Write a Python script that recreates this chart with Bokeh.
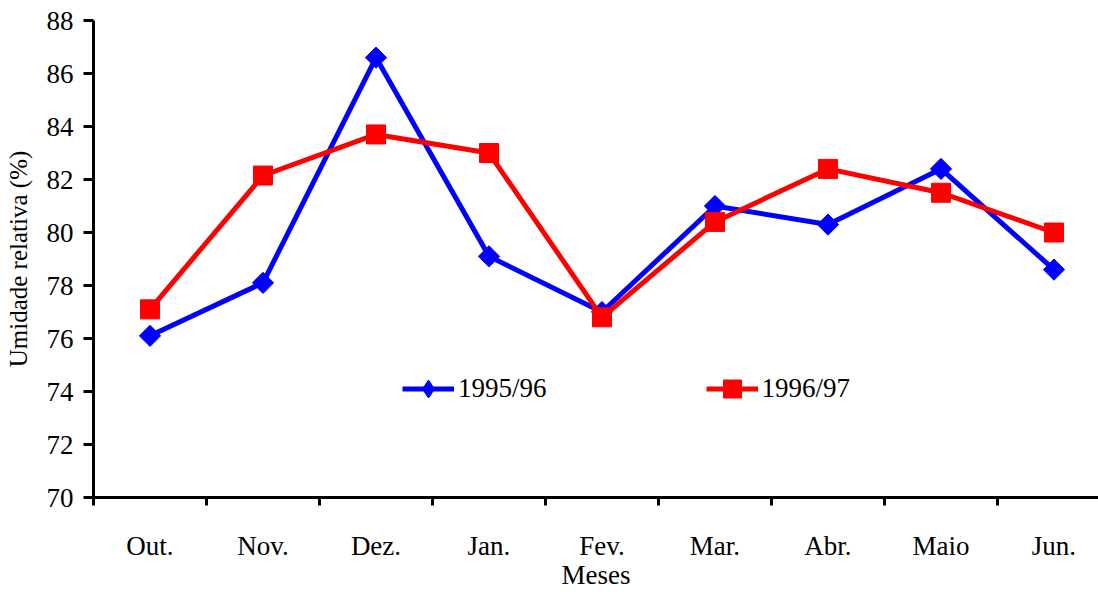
from bokeh.plotting import figure
from bokeh.models import Range1d, FixedTicker, Legend, LegendItem
from bokeh.embed import file_html
from bokeh.resources import INLINE
import math

# Monthly relative humidity (%) for two seasons
months = ["Out.", "Nov.", "Dez.", "Jan.", "Fev.", "Mar.", "Abr.", "Maio", "Jun."]
season_1995_96 = [76.1, 78.1, 86.6, 79.1, 77.0, 81.0, 80.3, 82.4, 78.6]
season_1996_97 = [77.1, 82.15, 83.7, 83.0, 76.8, 80.4, 82.4, 81.5, 80.0]
y_ticks = [70, 72, 74, 76, 78, 80, 82, 84, 86, 88]

FONT = "Liberation Serif"
xs = list(range(len(months)))

p = figure(width=1098, height=592, output_backend="svg", toolbar_location=None,
           x_range=Range1d(-0.5, 8.394), y_range=Range1d(70, 88),
           min_border_left=93, min_border_right=0, min_border_top=20, min_border_bottom=94)
p.outline_line_color = None
p.grid.visible = False
p.background_fill_color = "white"
p.border_fill_color = "white"

# x axis: month names at category centres, tick marks between categories
xa = p.xaxis[0]
xa.ticker = FixedTicker(ticks=xs, minor_ticks=[i - 0.5 for i in range(len(months))])
xa.major_label_overrides = {i: m for i, m in enumerate(months)}
xa.major_tick_out = 0
xa.major_tick_in = 0
xa.minor_tick_out = 8
xa.minor_tick_in = 0
xa.minor_tick_line_width = 3
xa.minor_tick_line_color = "black"
xa.axis_line_width = 3
xa.axis_line_color = "black"
xa.major_label_standoff = 25
xa.major_label_text_font = FONT
xa.major_label_text_font_size = "27px"
xa.major_label_text_color = "black"
xa.axis_label = "Meses"
xa.axis_label_text_font = FONT
xa.axis_label_text_font_size = "27px"
xa.axis_label_text_font_style = "normal"
xa.axis_label_text_color = "black"
xa.axis_label_standoff = -4

ya = p.yaxis[0]
ya.ticker = FixedTicker(ticks=y_ticks, minor_ticks=[])
ya.major_tick_out = 10
ya.major_tick_in = 0
ya.major_tick_line_width = 3
ya.major_tick_line_color = "black"
ya.minor_tick_out = 0
ya.minor_tick_in = 0
ya.axis_line_width = 3
ya.axis_line_color = "black"
ya.major_label_standoff = 10
ya.major_label_text_font = FONT
ya.major_label_text_font_size = "27px"
ya.major_label_text_color = "black"
ya.axis_label = "Umidade relativa (%)"
ya.axis_label_text_font = FONT
ya.axis_label_text_font_size = "25px"
ya.axis_label_text_font_style = "normal"
ya.axis_label_text_color = "black"
ya.axis_label_standoff = 12

blue = "#0000FF"
red = "#FF0000"

l1 = p.line(xs, season_1995_96, line_color=blue, line_width=5)
m1 = p.scatter(xs, season_1995_96, marker="square", angle=math.pi / 4, size=15,
               fill_color=blue, line_color=blue)
l2 = p.line(xs, season_1996_97, line_color=red, line_width=5)
m2 = p.scatter(xs, season_1996_97, marker="square", size=19,
               fill_color=red, line_color=red)
# legend key uses the classic narrow diamond
k1 = p.scatter(xs, season_1995_96, marker="diamond", fill_color=blue,
               line_color=blue, visible=False)

legend = Legend(items=[LegendItem(label="1995/96", renderers=[l1, k1]),
                       LegendItem(label="1996/97", renderers=[l2, m2])],
                orientation="horizontal", location=(309, 86),
                glyph_width=52, glyph_height=45, label_height=45,
                label_standoff=4, spacing=159, padding=0, margin=0,
                border_line_color=None, background_fill_alpha=0,
                label_text_font=FONT, label_text_font_size="27px",
                label_text_color="black")
p.add_layout(legend)

open("out.html", "w").write(file_html(p, INLINE))
